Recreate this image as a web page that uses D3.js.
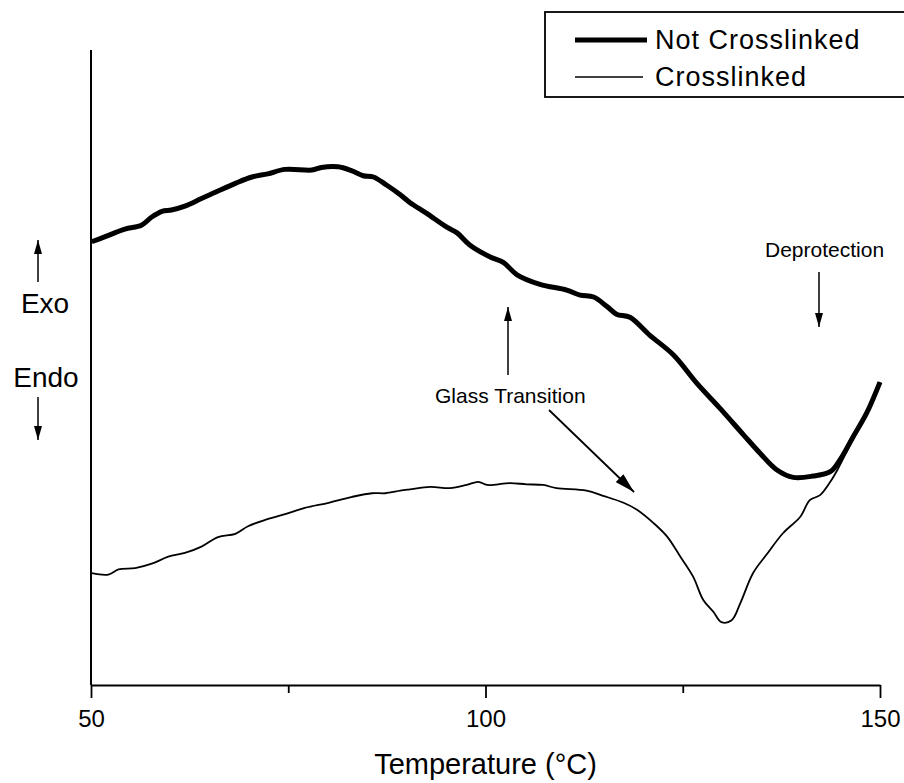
<!DOCTYPE html>
<html>
<head>
<meta charset="utf-8">
<script src="https://cdn.jsdelivr.net/npm/d3@7"></script>
<style>
  body { margin: 0; background: #fff; }
  text { font-family: "Liberation Sans", Arial, sans-serif; fill: #000; }
</style>
</head>
<body>
<div id="chart"></div>
<script>
// Temperature (°C) readings
const tempNotCrosslinked = [50.1, 51.8, 54.3, 56.4, 57.7, 59.0, 60.2, 61.9, 64.0, 66.1, 68.3, 70.4, 72.4, 74.6, 78.0, 79.2, 81.3, 83.0, 84.5, 85.8, 87.5, 89.2, 90.4, 92.5, 95.1, 96.4, 98.0, 100.6, 102.3, 104.0, 106.9, 110.3, 112.0, 113.7, 115.4, 116.6, 118.3, 120.8, 123.8, 126.8, 129.7, 132.7, 134.8, 136.9, 139.0, 141.5, 143.7, 144.9, 146.6, 148.3, 150.0];
// Heat flow (arbitrary units, exo up)
const flowNotCrosslinked = [69.8, 70.6, 71.8, 72.4, 73.7, 74.6, 74.8, 75.4, 76.6, 77.8, 79.0, 80.0, 80.5, 81.2, 81.1, 81.5, 81.6, 81.0, 80.2, 80.0, 78.7, 77.2, 76.0, 74.3, 72.1, 71.2, 69.3, 67.4, 66.5, 64.6, 63.1, 62.2, 61.4, 61.1, 59.6, 58.4, 57.9, 55.1, 52.0, 47.5, 43.6, 39.4, 36.5, 33.9, 32.7, 32.9, 33.6, 35.4, 39.1, 42.8, 47.7];

const tempCrosslinked = [50.1, 52.2, 53.5, 55.6, 57.7, 59.8, 61.9, 64.0, 66.1, 68.3, 69.9, 72.1, 74.6, 77.1, 80.1, 83.0, 85.6, 87.3, 89.2, 90.4, 93.0, 95.5, 97.6, 99.1, 100.2, 103.1, 105.2, 107.3, 109.0, 112.8, 114.9, 117.5, 119.2, 121.3, 123.0, 124.7, 126.3, 127.6, 128.9, 129.9, 131.2, 132.3, 133.9, 135.6, 137.7, 139.9, 141.1, 142.4, 143.7, 144.7, 146.2, 148.3, 150.0];
const flowCrosslinked = [17.6, 17.4, 18.2, 18.4, 19.1, 20.2, 20.8, 21.8, 23.3, 23.8, 25.0, 26.0, 26.9, 27.9, 28.7, 29.6, 30.2, 30.2, 30.6, 30.8, 31.2, 31.0, 31.5, 32.0, 31.5, 31.8, 31.6, 31.5, 31.0, 30.6, 29.8, 28.7, 27.6, 25.5, 23.4, 20.2, 17.1, 13.4, 11.5, 9.9, 10.2, 12.9, 17.6, 20.5, 23.9, 26.5, 29.1, 29.9, 32.0, 34.1, 37.8, 42.8, 47.7];

const seriesNames = ["Not Crosslinked", "Crosslinked"];
const xTicks = [50, 100, 150];
const xMinorTicks = [75, 125];

const width = 904, height = 783;
const margin = {top: 50, right: 24, bottom: 98, left: 91};
const innerW = width - margin.left - margin.right;
const innerH = height - margin.top - margin.bottom;

const svg = d3.select("#chart")
    .append("svg")
    .attr("width", width)
    .attr("height", height);

// arrow heads (small for vertical arrows, bigger for the diagonal one)
const defs = svg.append("defs");
[["head", 14, 8], ["bighead", 20, 11]].forEach(([id, w, h]) => {
    defs.append("marker")
        .attr("id", id)
        .attr("viewBox", "0 0 10 10")
        .attr("refX", 10)
        .attr("refY", 5)
        .attr("markerUnits", "userSpaceOnUse")
        .attr("markerWidth", w)
        .attr("markerHeight", h)
        .attr("preserveAspectRatio", "none")
        .attr("orient", "auto")
        .append("path")
        .attr("d", "M0,0 L10,5 L0,10 Z")
        .attr("fill", "#000");
});

const g = svg.append("g")
    .attr("transform", `translate(${margin.left},${margin.top})`);

const x = d3.scaleLinear().domain([50, 150]).range([0, innerW]);
const y = d3.scaleLinear().domain([0, 100]).range([innerH, 0]);

// x axis with major and minor ticks
const xAxis = g.append("g")
    .attr("transform", `translate(0,${innerH})`)
    .call(d3.axisBottom(x).tickValues(xTicks).tickSize(13).tickSizeOuter(0).tickPadding(12).tickFormat(d3.format("d")));
xAxis.select(".domain").attr("stroke-width", 2.2);
xAxis.selectAll(".tick line").attr("stroke-width", 1.8);
xAxis.selectAll(".tick text")
    .style("font-size", "24px")
    .style("font-family", "Liberation Sans, Arial, sans-serif");

g.append("g")
    .attr("transform", `translate(0,${innerH})`)
    .call(d3.axisBottom(x).tickValues(xMinorTicks).tickSize(8).tickFormat(""))
    .call(s => s.select(".domain").remove())
    .selectAll(".tick line").attr("stroke-width", 1.8);

// y axis, no ticks
g.append("line")
    .attr("x1", 0).attr("x2", 0)
    .attr("y1", 0).attr("y2", innerH)
    .attr("stroke", "#000")
    .attr("stroke-width", 2);

// x axis label
g.append("text")
    .attr("x", innerW / 2)
    .attr("y", innerH + 89)
    .style("text-anchor", "middle")
    .style("font-size", "29px")
    .text("Temperature (°C)");

// curves
const line = d3.line()
    .x(d => x(d[0]))
    .y(d => y(d[1]))
    .curve(d3.curveCatmullRom);

g.append("path")
    .datum(d3.zip(tempCrosslinked, flowCrosslinked))
    .attr("fill", "none")
    .attr("stroke", "#000")
    .attr("stroke-width", 1.8)
    .attr("d", line);

g.append("path")
    .datum(d3.zip(tempNotCrosslinked, flowNotCrosslinked))
    .attr("fill", "none")
    .attr("stroke", "#000")
    .attr("stroke-width", 5)
    .attr("stroke-linejoin", "round")
    .attr("d", line);

// Exo / Endo labels
svg.append("text").attr("x", 45).attr("y", 313)
    .style("text-anchor", "middle").style("font-size", "28px").text("Exo");
svg.append("text").attr("x", 46).attr("y", 387)
    .style("text-anchor", "middle").style("font-size", "28px").text("Endo");
svg.append("line").attr("x1", 38).attr("y1", 282).attr("x2", 38).attr("y2", 240)
    .attr("stroke", "#000").attr("stroke-width", 1.5).attr("marker-end", "url(#head)");
svg.append("line").attr("x1", 38).attr("y1", 397).attr("x2", 38).attr("y2", 440)
    .attr("stroke", "#000").attr("stroke-width", 1.5).attr("marker-end", "url(#head)");

// Glass transition annotation
svg.append("text").attr("x", 435).attr("y", 403)
    .style("font-size", "21px").text("Glass Transition");
svg.append("line").attr("x1", 508).attr("y1", 375).attr("x2", 508).attr("y2", 307)
    .attr("stroke", "#000").attr("stroke-width", 1.5).attr("marker-end", "url(#head)");
svg.append("line").attr("x1", 549).attr("y1", 410).attr("x2", 634).attr("y2", 492)
    .attr("stroke", "#000").attr("stroke-width", 1.8).attr("marker-end", "url(#bighead)");

// Deprotection annotation
svg.append("text").attr("x", 765).attr("y", 257)
    .style("font-size", "21px").text("Deprotection");
svg.append("line").attr("x1", 819).attr("y1", 272).attr("x2", 819).attr("y2", 327)
    .attr("stroke", "#000").attr("stroke-width", 1.5).attr("marker-end", "url(#head)");

// legend
const legend = svg.append("g").attr("transform", "translate(545,12)");
legend.append("rect")
    .attr("x", 0).attr("y", 0)
    .attr("width", 380).attr("height", 85)
    .attr("fill", "none")
    .attr("stroke", "#000")
    .attr("stroke-width", 1.8);

seriesNames.forEach((name, i) => {
    legend.append("line")
        .attr("x1", 30).attr("x2", i === 0 ? 102 : 98)
        .attr("y1", 28 + i * 37).attr("y2", 28 + i * 37)
        .attr("stroke", "#000")
        .attr("stroke-width", i === 0 ? 5 : 1.6);
    legend.append("text")
        .attr("x", 110)
        .attr("y", 37 + i * 37)
        .style("font-size", "27px")
        .style("letter-spacing", "1px")
        .text(name);
});
</script>
</body>
</html>
